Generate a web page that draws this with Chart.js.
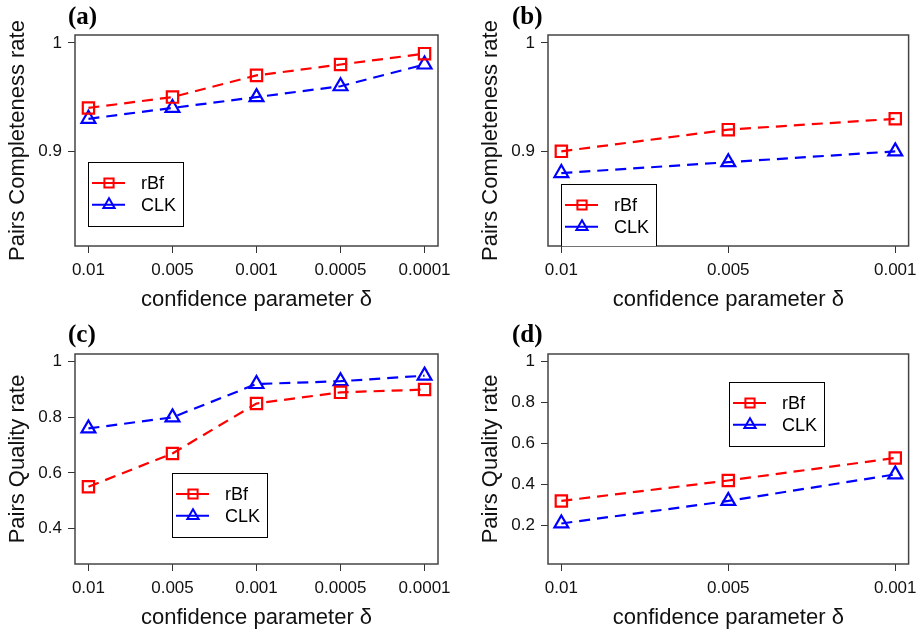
<!DOCTYPE html>
<html>
<head>
<meta charset="utf-8">
<script src="https://cdn.jsdelivr.net/npm/chart.js@4/dist/chart.umd.min.js"></script>
<style>
  body { margin: 0; background: #fff; }
  .panel { position: absolute; }
</style>
</head>
<body>
<div class="panel" style="left:0;top:0;width:462px;height:315px"><canvas id="chartA"></canvas></div>
<div class="panel" style="left:462px;top:0;width:462px;height:315px"><canvas id="chartB"></canvas></div>
<div class="panel" style="left:0;top:315px;width:462px;height:316px"><canvas id="chartC"></canvas></div>
<div class="panel" style="left:462px;top:315px;width:462px;height:316px"><canvas id="chartD"></canvas></div>
<script>
// delta values on the x axis
var deltaFive = ["0.01", "0.005", "0.001", "0.0005", "0.0001"];
var deltaThree = ["0.01", "0.005", "0.001"];

// (a) pairs completeness, 5 deltas
var rbfA = [0.94, 0.95, 0.97, 0.98, 0.99];
var clkA = [0.93, 0.94, 0.95, 0.96, 0.98];
// (b) pairs completeness, 3 deltas
var rbfB = [0.90, 0.92, 0.93];
var clkB = [0.88, 0.89, 0.90];
// (c) pairs quality, 5 deltas
var rbfC = [0.55, 0.67, 0.85, 0.89, 0.90];
var clkC = [0.76, 0.80, 0.92, 0.93, 0.95];
// (d) pairs quality, 3 deltas
var rbfD = [0.32, 0.42, 0.53];
var clkD = [0.21, 0.32, 0.45];

var yTicksCompleteness = [0.9, 1];
var yTicksQualityC = [0.4, 0.6, 0.8, 1];
var yTicksQualityD = [0.2, 0.4, 0.6, 0.8, 1];

var seriesNames = ["rBf", "CLK"];
var seriesColors = ["#ff0000", "#0000ff"];
var seriesShapes = ["rect", "triangle"];

var SANS = "'Liberation Sans', Arial, sans-serif";

function drawMarker(ctx, shape, x, y, r) {
  ctx.beginPath();
  if (shape === "rect") {
    var s = r * Math.SQRT1_2;
    ctx.rect(x - s, y - s, 2 * s, 2 * s);
  } else {
    ctx.moveTo(x, y - r);
    ctx.lineTo(x + r * Math.sin(2 * Math.PI / 3), y - r * Math.cos(2 * Math.PI / 3));
    ctx.lineTo(x + r * Math.sin(4 * Math.PI / 3), y - r * Math.cos(4 * Math.PI / 3));
    ctx.closePath();
  }
  ctx.stroke();
}

var framePlugin = {
  id: "frame",
  afterDraw: function (chart) {
    var ctx = chart.ctx;
    var a = chart.chartArea;
    var o = chart.options.plugins.frame;
    ctx.save();
    // full box around plot region
    ctx.strokeStyle = "#444";
    ctx.lineWidth = 1.5;
    ctx.setLineDash([]);
    ctx.strokeRect(a.left, a.top, a.right - a.left, a.bottom - a.top);

    // panel tag
    ctx.fillStyle = "#000";
    ctx.font = "bold 25px 'Liberation Serif', 'Times New Roman', serif";
    ctx.textBaseline = "middle";
    ctx.textAlign = "left";
    ctx.fillText(o.tag, o.tagX, o.tagY);

    // legend
    ctx.beginPath();
    ctx.rect(a.left, a.top, a.right - a.left, a.bottom - a.top);
    ctx.clip();
    var lx = a.left + o.legendX, ly = a.top + o.legendY;
    ctx.fillStyle = "#fff";
    ctx.fillRect(lx, ly, 95, 64);
    ctx.strokeStyle = "#000";
    ctx.lineWidth = 1;
    ctx.strokeRect(lx + 0.5, ly + 0.5, 95, 64);
    ctx.font = "18px " + SANS;
    for (var i = 0; i < 2; i++) {
      var ry = ly + 21 + i * 21.7;
      ctx.strokeStyle = seriesColors[i];
      ctx.lineWidth = 2;
      ctx.beginPath();
      ctx.moveTo(lx + 4, ry);
      ctx.lineTo(lx + 37, ry);
      ctx.stroke();
      drawMarker(ctx, seriesShapes[i], lx + 21, ry, 6.5);
      ctx.fillStyle = "#000";
      ctx.fillText(seriesNames[i], lx + 53, ry + 1);
    }
    ctx.restore();
  }
};

function makePanel(p) {
  var n = p.labels.length;
  var pad = (p.ylim[1] - p.ylim[0]) * 0.04;
  var xpad = (n - 1) * 0.04;
  function pts(vals) {
    return vals.map(function (v, i) { return { x: i + 1, y: v }; });
  }
  var sets = [p.rbf, p.clk].map(function (vals, i) {
    return {
      label: seriesNames[i],
      data: pts(vals),
      borderColor: seriesColors[i],
      backgroundColor: "rgba(0,0,0,0)",
      borderWidth: 2.2,
      borderDash: [11, 7],
      pointStyle: seriesShapes[i],
      pointRadius: 8,
      pointBorderWidth: 2.2,
      pointBorderColor: seriesColors[i],
      pointBackgroundColor: "rgba(0,0,0,0)",
      tension: 0
    };
  });

  new Chart(p.id, {
    type: "line",
    data: { datasets: sets },
    options: {
      responsive: true,
      maintainAspectRatio: false,
      animation: false,
      layout: { padding: { top: p.padTop, right: p.padRight, left: 0, bottom: 0 } },
      plugins: {
        legend: { display: false },
        tooltip: { enabled: false },
        frame: { tag: p.tag, tagX: p.tagX, tagY: p.tagY, legendX: p.legendX, legendY: p.legendY }
      },
      scales: {
        x: {
          type: "linear",
          min: 1 - xpad,
          max: n + xpad,
          afterBuildTicks: function (s) {
            s.ticks = p.labels.map(function (_, i) { return { value: i + 1 }; });
          },
          afterFit: function (s) { s.height = p.xAxisH; },
          grid: { drawOnChartArea: false, drawTicks: true, tickLength: 7, tickColor: "#333", tickWidth: 1 },
          border: { display: false },
          ticks: {
            color: "#111",
            font: { family: SANS, size: 17 },
            padding: 7,
            maxRotation: 0,
            autoSkip: false,
            callback: function (v) { return p.labels[Math.round(v) - 1]; }
          },
          title: {
            display: true,
            text: "confidence parameter δ",
            color: "#111",
            font: { family: SANS, size: 22 },
            padding: { top: 0, bottom: p.xTitlePad }
          }
        },
        y: {
          min: p.ylim[0] - pad,
          max: p.ylim[1] + pad,
          afterBuildTicks: function (s) {
            s.ticks = p.yTicks.map(function (v) { return { value: v }; });
          },
          afterFit: function (s) { s.width = p.axisW; },
          grid: { drawOnChartArea: false, drawTicks: true, tickLength: 7, tickColor: "#333", tickWidth: 1 },
          border: { display: false },
          ticks: {
            color: "#111",
            font: { family: SANS, size: 17 },
            padding: 6,
            callback: function (v) { return String(+v.toFixed(2)); }
          },
          title: {
            display: true,
            text: p.yTitle,
            color: "#111",
            font: { family: SANS, size: 22 },
            padding: { top: p.yTitlePad, bottom: 0 }
          }
        }
      }
    },
    plugins: [framePlugin]
  });
}

makePanel({ id: "chartA", tag: "(a)", tagX: 68, tagY: 18, labels: deltaFive, rbf: rbfA, clk: clkA,
  ylim: [0.82, 1.0], yTicks: yTicksCompleteness, yTitle: "Pairs Completeness rate",
  axisW: 75, padTop: 35, padRight: 24, xAxisH: 69, yTitlePad: 5, xTitlePad: 2,
  legendX: 13, legendY: 127 });

makePanel({ id: "chartB", tag: "(b)", tagX: 50, tagY: 18, labels: deltaThree, rbf: rbfB, clk: clkB,
  ylim: [0.82, 1.0], yTicks: yTicksCompleteness, yTitle: "Pairs Completeness rate",
  axisW: 86, padTop: 35, padRight: 13, xAxisH: 69, yTitlePad: 16, xTitlePad: 2,
  legendX: 13, legendY: 149 });

makePanel({ id: "chartC", tag: "(c)", tagX: 68, tagY: 21, labels: deltaFive, rbf: rbfC, clk: clkC,
  ylim: [0.3, 1.0], yTicks: yTicksQualityC, yTitle: "Pairs Quality rate",
  axisW: 75, padTop: 39, padRight: 24, xAxisH: 67, yTitlePad: 5, xTitlePad: 0,
  legendX: 97, legendY: 119 });

makePanel({ id: "chartD", tag: "(d)", tagX: 50, tagY: 21, labels: deltaThree, rbf: rbfD, clk: clkD,
  ylim: [0.05, 1.0], yTicks: yTicksQualityD, yTitle: "Pairs Quality rate",
  axisW: 86, padTop: 39, padRight: 13, xAxisH: 67, yTitlePad: 16, xTitlePad: 0,
  legendX: 181, legendY: 28 });
</script>
</body>
</html>
